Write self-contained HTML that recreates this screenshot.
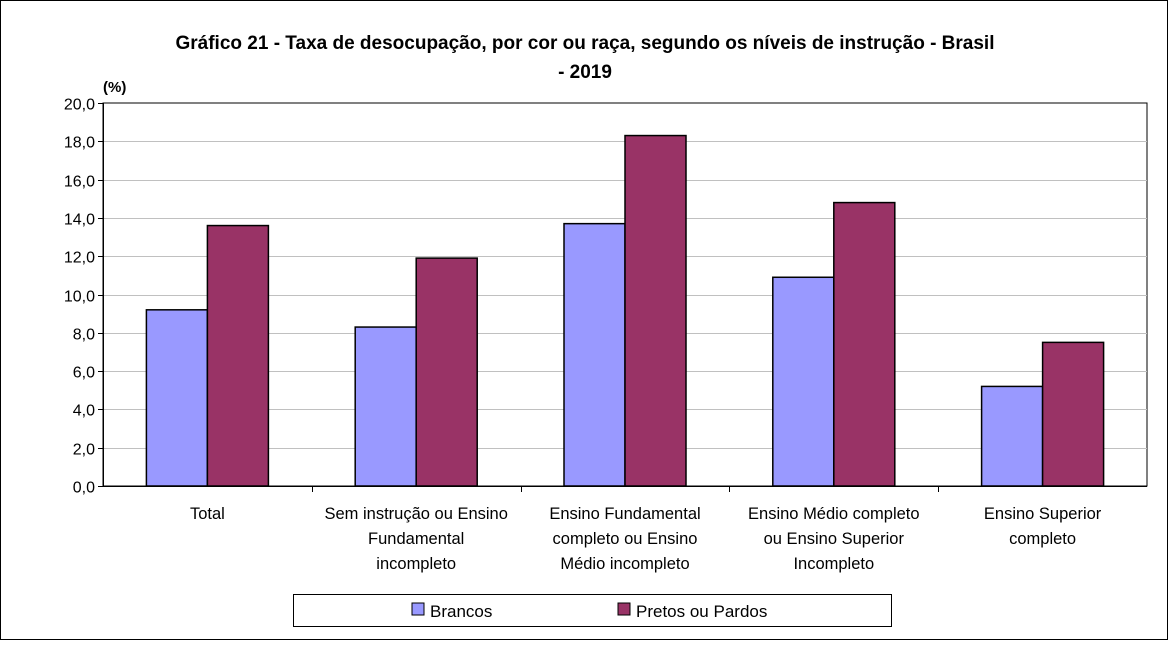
<!DOCTYPE html>
<html><head><meta charset="utf-8"><style>
body{margin:0;background:#fff;}
svg text{font-family:"Liberation Sans",Arial,sans-serif;}
</style></head><body>
<svg width="1168" height="640" xmlns="http://www.w3.org/2000/svg">
<rect x="0.5" y="0.5" width="1167" height="639" fill="#fff" stroke="#000"/>
<text x="585" y="49" text-anchor="middle" font-size="19" font-weight="bold">Gráfico 21 - Taxa de desocupação, por cor ou raça, segundo os níveis de instrução - Brasil</text>
<text x="585" y="78" text-anchor="middle" font-size="19" font-weight="bold">- 2019</text>
<text x="103" y="92" font-size="15" font-weight="bold">(%)</text>
<g id="grid"></g><g id="bars"></g><g id="axes"></g>
<g>
<rect x="293.5" y="594.5" width="598" height="32" fill="#fff" stroke="#000"/>
<rect x="412" y="603" width="12" height="12" fill="#9999ff" stroke="#000"/>
<text x="430" y="617" font-size="17">Brancos</text>
<rect x="618" y="603" width="12" height="12" fill="#993366" stroke="#000"/>
<text x="636" y="617" font-size="17">Pretos ou Pardos</text>
</g>
</svg>
<script>
const categories=[["Total"],["Sem instrução ou Ensino","Fundamental","incompleto"],["Ensino Fundamental","completo ou Ensino","Médio incompleto"],["Ensino Médio completo","ou Ensino Superior","Incompleto"],["Ensino Superior","completo"]];
const brancos=[9.2,8.3,13.7,10.9,5.2];
const pretos=[13.6,11.9,18.3,14.8,7.5];
const yTicks=["0,0","2,0","4,0","6,0","8,0","10,0","12,0","14,0","16,0","18,0","20,0"];
const NS="http://www.w3.org/2000/svg";
const X0=103,X1=1147,Y0=486,Y1=103,YMAX=20;
const y=v=>Y0-(v/YMAX)*(Y0-Y1);
const gw=(X1-X0)/categories.length;
function mk(t,a,p){const e=document.createElementNS(NS,t);for(const k in a)e.setAttribute(k,a[k]);p.appendChild(e);return e;}
const grid=document.getElementById('grid'),bars=document.getElementById('bars'),axes=document.getElementById('axes');
mk('rect',{x:X0,y:Y1,width:X1-X0,height:Y0-Y1,fill:'#fff',stroke:'#000'},grid);
yTicks.forEach((t,i)=>{const v=i*2,yy=Math.round(y(v))+0.5;
 if(i>0&&i<yTicks.length-1){const l=mk('line',{x1:X0,x2:X1,y1:yy,y2:yy,stroke:'#c0c0c0'},grid);}
 const tk=mk('line',{x1:X0-5,x2:X0,y1:yy,y2:yy,stroke:'#000'},axes);
 const tx=mk('text',{x:X0-8,y:yy+6,'text-anchor':'end','font-size':'16'},axes);tx.textContent=t;
 
 
});
mk('line',{x1:X0+0.5,x2:X0+0.5,y1:Y1,y2:Y0,stroke:'#000'},axes);
mk('line',{x1:X0,x2:X1,y1:Y0+0.5,y2:Y0+0.5,stroke:'#000'},axes);
const bw=61;
categories.forEach((c,i)=>{const cx=X0+gw*(i+0.5);
 const xt=Math.round(X0+gw*i)+0.5;
 if(i>0){const t=mk('line',{x1:xt,x2:xt,y1:Y0,y2:Y0+6,stroke:'#000'},axes);}
 const b1=mk('rect',{x:cx-bw,y:y(brancos[i]),width:bw,height:Y0-y(brancos[i]),fill:'#9999ff',stroke:'#000','stroke-width':1.5},bars);
 
 
 const b2=mk('rect',{x:cx,y:y(pretos[i]),width:bw,height:Y0-y(pretos[i]),fill:'#993366',stroke:'#000','stroke-width':1.5},bars);
 
 
 c.forEach((ln,j)=>{const t=mk('text',{x:cx,y:519+j*25,'text-anchor':'middle','font-size':'16.5'},axes);t.textContent=ln;
 
 });
});
</script>
</body></html>
